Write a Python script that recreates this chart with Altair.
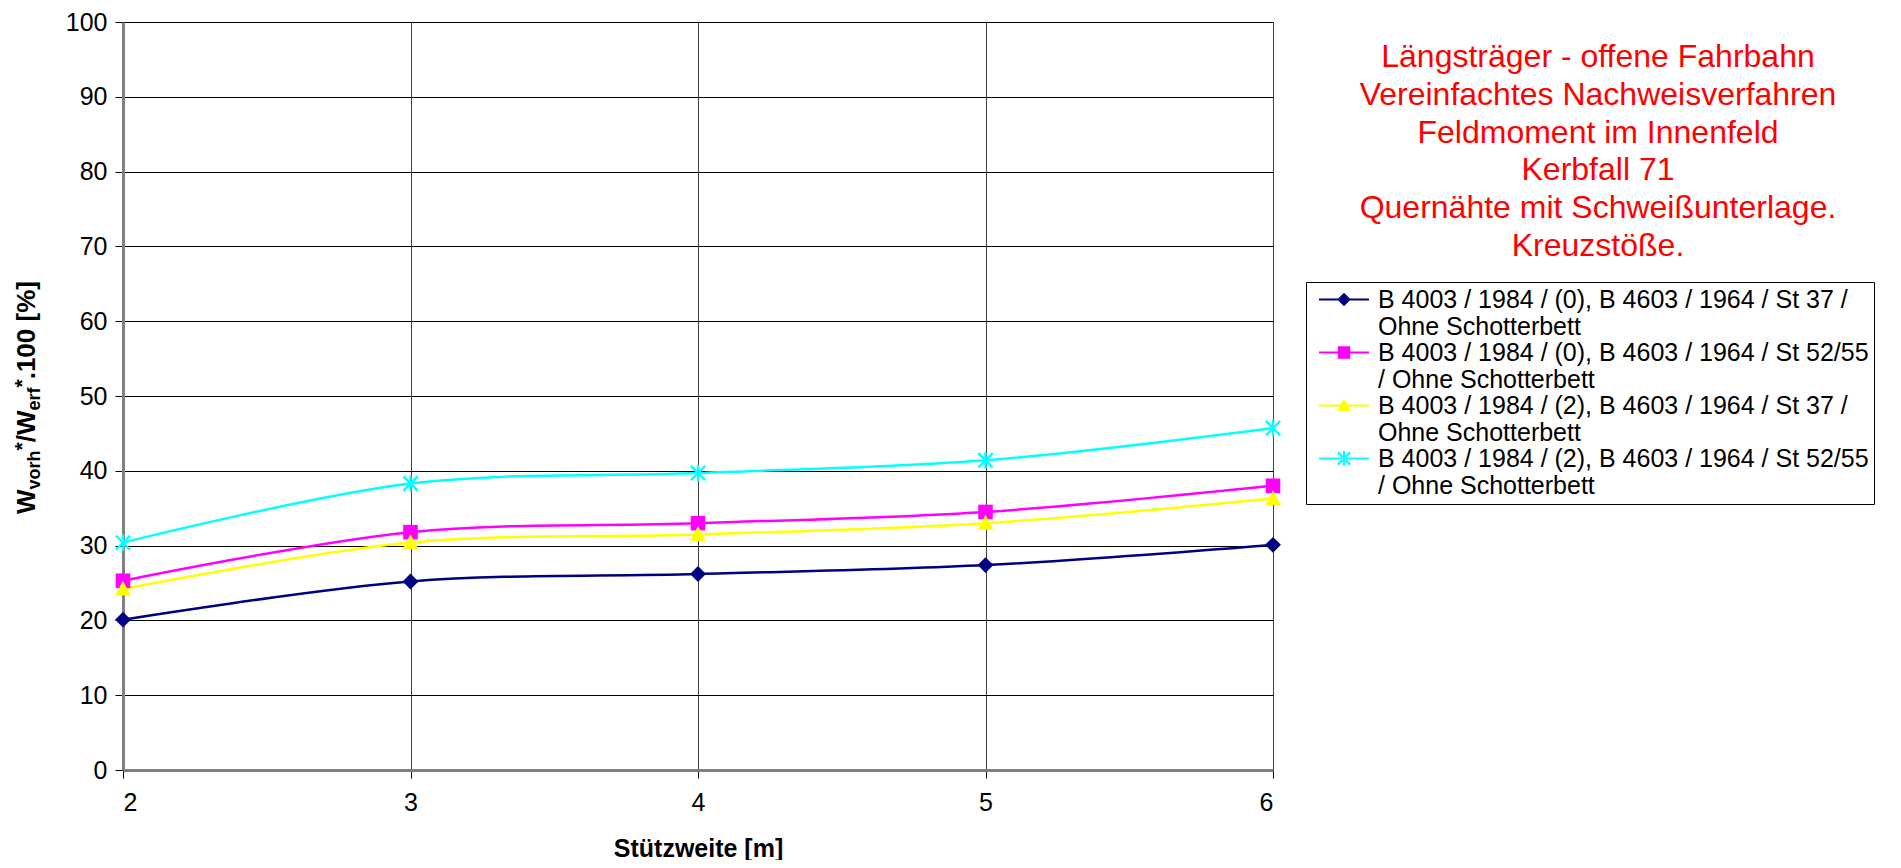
import altair as alt
import pandas as pd

# ---------------- data ----------------
span = [2, 3, 4, 5, 6]
series_names = [
    "B 4003 / 1984 / (0), B 4603 / 1964 / St 37 /|Ohne Schotterbett",
    "B 4003 / 1984 / (0), B 4603 / 1964 / St 52/55|/ Ohne Schotterbett",
    "B 4003 / 1984 / (2), B 4603 / 1964 / St 37 /|Ohne Schotterbett",
    "B 4003 / 1984 / (2), B 4603 / 1964 / St 52/55|/ Ohne Schotterbett",
]
navy_vals = [20.1, 25.2, 26.2, 27.4, 30.1]
magenta_vals = [25.3, 31.8, 33.0, 34.5, 38.0]
yellow_vals = [24.2, 30.4, 31.5, 33.0, 36.3]
cyan_vals = [30.4, 38.3, 39.7, 41.4, 45.7]
title_lines = [
    "Längsträger - offene Fahrbahn",
    "Vereinfachtes Nachweisverfahren",
    "Feldmoment im Innenfeld",
    "Kerbfall 71",
    "Quernähte mit Schweißunterlage.",
    "Kreuzstöße.",
]
x_title = "Stützweite [m]"
# y-axis title pieces: (text, kind) kind: main / sub / sup
y_title_pieces = [("W", "main"), ("vorh", "sub"), ("*", "sup"), ("/W", "main"),
                  ("erf", "sub"), ("*", "sup"), (".100 [%]", "main")]

colors = ["#000080", "#FF00FF", "#FFFF00", "#00FFFF"]

rows = []
for name, vals in zip(series_names, [navy_vals, magenta_vals, yellow_vals, cyan_vals]):
    for s, v in zip(span, vals):
        rows.append({"span": s, "value": v, "series": name})
df = pd.DataFrame(rows)

FONT = "Liberation Sans"


# ---------------- marker shapes ----------------
def bar(x1, y1, x2, y2, t):
    dx, dy = x2 - x1, y2 - y1
    L = (dx * dx + dy * dy) ** 0.5
    nx, ny = -dy / L * t, dx / L * t
    pts = [(x1 + nx, y1 + ny), (x2 + nx, y2 + ny), (x2 - nx, y2 - ny), (x1 - nx, y1 - ny)]
    return "M" + "L".join(f"{a:.3f},{b:.3f}" for a, b in pts) + "Z"


def marker_paths(s, t, line=None, half_len=1.0):
    q = s * 0.92
    d = [
        f"M0,{-s:.3f}L{s:.3f},0L0,{s:.3f}L{-s:.3f},0Z",
        f"M{-q:.3f},{-q:.3f}L{q:.3f},{-q:.3f}L{q:.3f},{q:.3f}L{-q:.3f},{q:.3f}Z",
        f"M0,{-s*1.05:.3f}L{s:.3f},{s*0.82:.3f}L{-s:.3f},{s*0.82:.3f}Z",
        bar(-s * 0.9, -s * 0.9, s * 0.9, s * 0.9, t) + bar(-s * 0.9, s * 0.9, s * 0.9, -s * 0.9, t)
        + bar(0, -s * 1.05, 0, s * 1.05, t),
    ]
    if line is not None:
        h = half_len
        ln = f"M{-h:.3f},{-line:.3f}L{h:.3f},{-line:.3f}L{h:.3f},{line:.3f}L{-h:.3f},{line:.3f}Z"
        d = [ln + p for p in d]
    return d


plot_markers = marker_paths(0.88, 0.13)
LEG_SIZE = 100  # nominal 10px symbol (5px per unit); drawn path is wider
legend_markers = marker_paths(1.36, 0.22, line=0.22, half_len=5.0)

x_enc = alt.X("span:Q", scale=alt.Scale(domain=[2, 6], nice=False, zero=False),
              axis=alt.Axis(title=x_title, values=span, format="d", grid=True,
                            gridColor="#404040", gridWidth=1,
                            labelFontSize=25, labelFont=FONT, labelColor="#000",
                            labelPadding=12, tickSize=8, tickColor="#000",
                            domainColor="#808080", domainWidth=3,
                            titleFontSize=25, titleFont=FONT, titleFontWeight="bold",
                            titleColor="#000", titlePadding=21))
y_enc = alt.Y("value:Q", scale=alt.Scale(domain=[0, 100], nice=False),
              axis=alt.Axis(title=None, values=list(range(0, 101, 10)), grid=True,
                            gridColor="#000", gridWidth=1,
                            labelFontSize=25, labelFont=FONT, labelColor="#000",
                            labelPadding=8, tickSize=8, tickColor="#000",
                            domainColor="#808080", domainWidth=3))

color_scale = alt.Scale(domain=series_names, range=colors)

base = alt.Chart(df)

lines = base.mark_line(interpolate="catmull-rom", strokeWidth=2.5).encode(
    x=x_enc, y=y_enc, color=alt.Color("series:N", scale=color_scale, legend=None),
    detail="series:N")

points = base.mark_point(filled=True, size=324, opacity=1, strokeWidth=0).encode(
    x=x_enc, y=y_enc, color=alt.Color("series:N", scale=color_scale, legend=None),
    shape=alt.Shape("series:N", scale=alt.Scale(domain=series_names, range=plot_markers), legend=None))

legend_props = dict(
    title=None, orient="none", legendX=1183, legendY=260,
    labelExpr="split(datum.label, '|')", labelFontSize=25, labelFont=FONT,
    labelColor="#000", labelLimit=1000, labelBaseline="middle", labelOffset=21.5,
    symbolSize=LEG_SIZE, symbolStrokeWidth=0, symbolOpacity=1, symbolOffset=20.5,
    strokeColor="#000", fillColor="#fff", padding=5, rowPadding=-4, labelOverlap=False,
)
legend_layer = base.mark_point(filled=True, size=1).encode(
    x=x_enc, y=y_enc, opacity=alt.value(0),
    color=alt.Color("series:N", scale=color_scale, legend=alt.Legend(**legend_props)),
    shape=alt.Shape("series:N", scale=alt.Scale(domain=series_names, range=legend_markers),
                    legend=alt.Legend(**legend_props)))

title_layer = alt.Chart(pd.DataFrame({"t": ["\n".join(title_lines)]})).mark_text(
    lineBreak="\n", lineHeight=37.8, fontSize=32, font=FONT, color="#FF0000",
    align="center", baseline="middle").encode(
    text="t:N", x=alt.value(1475), y=alt.value(35))

# y-axis title assembled from pieces (rotated)
widths = {"W": 944, "v": 556, "o": 611, "r": 389, "h": 611, "*": 389, "/": 278, "e": 556,
          "f": 333, ".": 278, "1": 556, "0": 556, " ": 278, "[": 333, "%": 889, "]": 333}
style = {"main": (26, 0), "sub": (18, 5), "sup": (21, -6)}
y_layers = []
pos = 492.0
base_x = -88
for txt, kind in y_title_pieces:
    fs, off = style[kind]
    y_layers.append(
        alt.Chart(pd.DataFrame({"t": [txt]})).mark_text(
            angle=270, align="left", baseline="alphabetic", fontSize=fs, font=FONT,
            fontWeight="bold", color="#000").encode(
            text="t:N", x=alt.value(base_x + off), y=alt.value(pos)))
    pos -= sum(widths[c] for c in txt) / 1000 * fs

chart = alt.layer(lines, points, legend_layer, title_layer, *y_layers).resolve_scale(
    shape="independent", color="independent").resolve_legend(
    shape="independent", color="independent").properties(
    width=1150, height=748,
    autosize=alt.AutoSizeParams(type="none"),
    padding={"left": 115, "top": 14, "right": 620, "bottom": 90},
).configure_view(stroke="#808080", strokeWidth=3).configure(background="white")

chart.save("out.html", embed_options={"renderer": "svg", "actions": False})
